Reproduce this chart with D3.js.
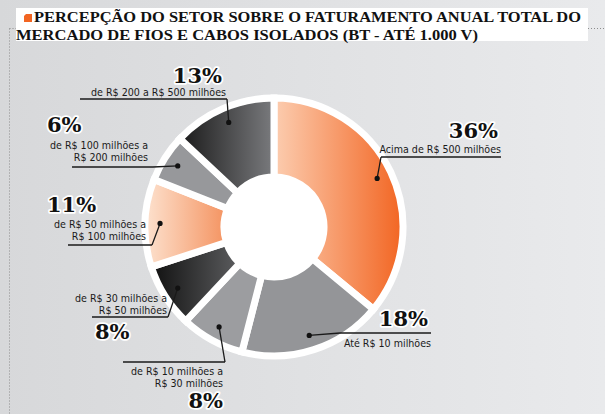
<!DOCTYPE html>
<html>
<head>
<meta charset="utf-8">
<script src="https://cdn.jsdelivr.net/npm/d3@7"></script>
<style>
body { margin: 0; padding: 0; overflow: hidden; }
.lbl { font-family: "Liberation Sans Narrow", "DejaVu Sans Condensed", "Roboto", sans-serif; font-size: 10.6px; fill: #1a1a1a; }
.pct { font-family: "DejaVu Serif", serif; font-weight: bold; font-size: 21px; fill: #111; stroke: #fff; stroke-width: 3.5px; paint-order: stroke; stroke-linejoin: round; }
.ttl { font-family: "Liberation Serif", serif; font-weight: bold; font-size: 15.5px; fill: #111; }
</style>
</head>
<body>
<script>
// data
var categories = ["Acima de R$ 500 milhões", "Até R$ 10 milhões", "de R$ 10 milhões a R$ 30 milhões", "de R$ 30 milhões a R$ 50 milhões", "de R$ 50 milhões a R$ 100 milhões", "de R$ 100 milhões a R$ 200 milhões", "de R$ 200 a R$ 500 milhões"];
var values = [36, 18, 8, 8, 11, 6, 13];
var labelLines = [["Acima de R$ 500 milhões"], ["Até R$ 10 milhões"], ["de R$ 10 milhões a", "R$ 30 milhões"], ["de R$ 30 milhões a", "R$ 50 milhões"], ["de R$ 50 milhões a", "R$ 100 milhões"], ["de R$ 100 milhões a", "R$ 200 milhões"], ["de R$ 200 a R$ 500 milhões"]];
var titleLines = ["PERCEPÇÃO DO SETOR SOBRE O FATURAMENTO ANUAL TOTAL DO", "MERCADO DE FIOS E CABOS ISOLADOS (BT - ATÉ 1.000 V)"];

// styles / layout
var sliceColors = [["#fccdb0", "#f26522"], ["#949598", "#949598"], ["#9c9da0", "#9c9da0"], ["#111111", "#5c5d5f"], ["#fde2cf", "#f4925f"], ["#97989b", "#97989b"], ["#1a1a1a", "#7a7b7e"]];
// pct: label position; txt: right edge + first baseline; ul: underline; from: leader start side
var layout = [
    {pct: [498, 138, "end"], txt: [501, 153], ul: [381, 501, 157], from: "l"},
    {pct: [428, 326, "end"], txt: [431, 347], ul: [340, 431, 333], from: "l"},
    {pct: [223, 408, "end"], txt: [223, 375], ul: [123, 225, 362], from: "r"},
    {pct: [95, 339, "start"], txt: [167, 302], ul: [92, 168, 317], from: "r"},
    {pct: [47, 212, "start"], txt: [146, 228], ul: [68, 152, 245], from: "r"},
    {pct: [47, 132, "start"], txt: [148, 149], ul: [72, 153, 167], from: "r"},
    {pct: [222, 83, "end"], txt: [226, 96], ul: [80, 227, 99], from: "r"}
];
var lineGap = 11.5;
var cx = 274, cy = 227;

var svg = d3.select("body").append("svg").attr("width", 605).attr("height", 414);
var defs = svg.append("defs");

var bg = defs.append("linearGradient").attr("id", "bg");
bg.append("stop").attr("offset", "0").attr("stop-color", "#d7d8da");
bg.append("stop").attr("offset", "1").attr("stop-color", "#e9eaec");
svg.append("rect").attr("width", 605).attr("height", 414).attr("fill", "url(#bg)");

sliceColors.forEach(function(c, i) {
    var g = defs.append("linearGradient").attr("id", "s" + i);
    g.append("stop").attr("offset", "0").attr("stop-color", c[0]);
    g.append("stop").attr("offset", "1").attr("stop-color", c[1]);
});

// dotted frame lines
svg.append("line").attr("x1", 9.5).attr("y1", 28.5).attr("x2", 9.5).attr("y2", 414).attr("stroke", "#8c8c8c").attr("stroke-dasharray", "1,2");
svg.append("line").attr("x1", 9.5).attr("y1", 28.5).attr("x2", 16).attr("y2", 28.5).attr("stroke", "#8c8c8c").attr("stroke-dasharray", "1,2");
svg.append("line").attr("x1", 588).attr("y1", 28.5).attr("x2", 605).attr("y2", 28.5).attr("stroke", "#8c8c8c").attr("stroke-dasharray", "1,2");

// title
svg.append("rect").attr("x", 16).attr("y", 8).attr("width", 572).attr("height", 33).attr("fill", "#fff");
svg.append("path").attr("d", "M24,16 L26,14 L32,14 L32,22 L24,22 Z").attr("fill", "#f26522");
svg.append("text").attr("class", "ttl").attr("x", 34).attr("y", 22).attr("textLength", 547).attr("lengthAdjust", "spacingAndGlyphs").text(titleLines[0]);
svg.append("text").attr("class", "ttl").attr("x", 16).attr("y", 40).attr("textLength", 462).attr("lengthAdjust", "spacingAndGlyphs").text(titleLines[1]);

// donut
var chart = svg.append("g").attr("transform", "translate(" + cx + "," + cy + ")");
chart.append("circle").attr("r", 131).attr("fill", "#fff");
var pie = d3.pie().sort(null).value(function(d) { return d; });
var arcs = pie(values);
var arc = d3.arc().innerRadius(50).outerRadius(129);
chart.selectAll("path.slice").data(arcs).enter().append("path")
    .attr("class", "slice")
    .attr("d", arc)
    .attr("fill", function(d, i) { return "url(#s" + i + ")"; })
    .attr("stroke", "#fff").attr("stroke-width", 7);

// labels
var dotArc = d3.arc().innerRadius(114).outerRadius(114);
arcs.forEach(function(d, i) {
    var L = layout[i];
    var c = dotArc.centroid(d);
    var dx = cx + c[0], dy = cy + c[1];
    var sx = L.from === "l" ? L.ul[0] : L.ul[1];
    svg.append("line").attr("x1", L.ul[0]).attr("x2", L.ul[1]).attr("y1", L.ul[2]).attr("y2", L.ul[2]).attr("stroke", "#1a1a1a").attr("stroke-width", 1.3);
    svg.append("line").attr("x1", sx).attr("y1", L.ul[2]).attr("x2", dx).attr("y2", dy).attr("stroke", "#1a1a1a").attr("stroke-width", 1.3);
    svg.append("circle").attr("cx", dx).attr("cy", dy).attr("r", 2.6).attr("fill", "#111");
    labelLines[i].forEach(function(t, j) {
        svg.append("text").attr("class", "lbl").attr("x", L.txt[0]).attr("y", L.txt[1] + j * lineGap).attr("text-anchor", "end").text(t);
    });
    svg.append("text").attr("class", "pct").attr("x", L.pct[0]).attr("y", L.pct[1]).attr("text-anchor", L.pct[2]).text(values[i] + "%");
});
</script>
</body>
</html>
